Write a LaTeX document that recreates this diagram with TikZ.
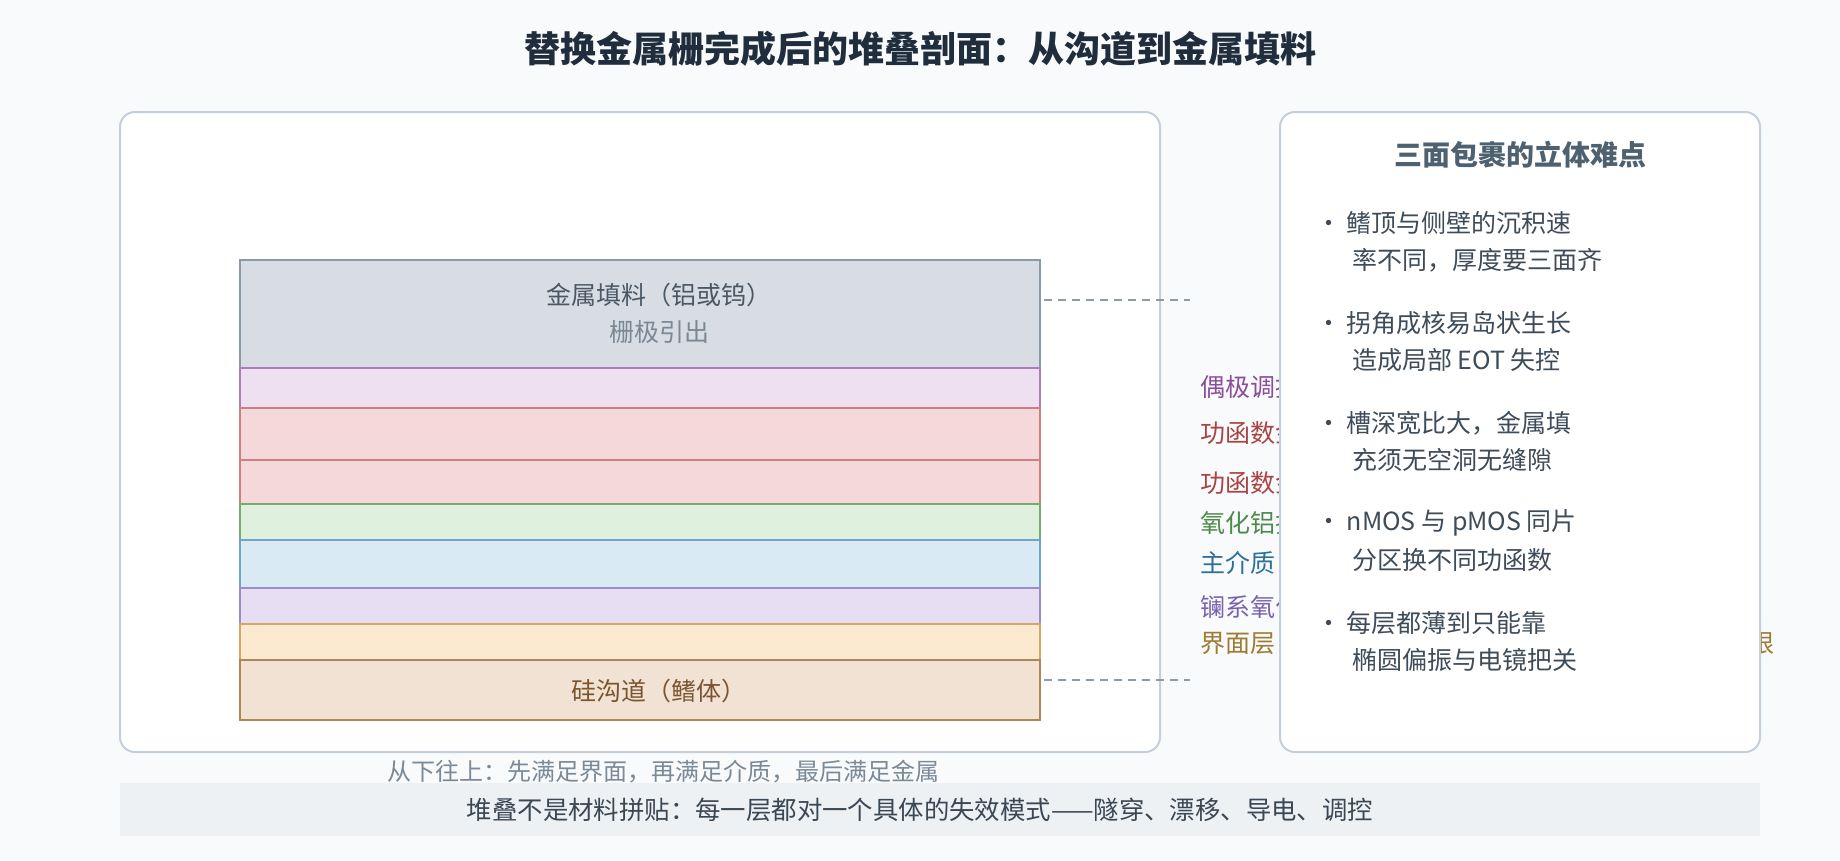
\documentclass[tikz,border=0pt]{standalone}
\usepackage{fontspec}
\setmainfont{Noto Sans CJK SC}
\definecolor{bg}{HTML}{F8FAFC}
\definecolor{panelc}{HTML}{C5CFD9}
\definecolor{titlec}{HTML}{1F2D3D}
\definecolor{bodyc}{HTML}{3E4C59}
\definecolor{headc}{HTML}{4D6170}
\definecolor{leaderc}{HTML}{8D9BA6}
\definecolor{capc}{HTML}{7B8A97}
\definecolor{bandc}{HTML}{EEF1F4}
\definecolor{bandt}{HTML}{3A4754}
\definecolor{mfill}{HTML}{D8DDE3}\definecolor{mline}{HTML}{8A9AA8}
\definecolor{dfill}{HTML}{EEE0F0}\definecolor{dline}{HTML}{A87FB8}
\definecolor{rfill}{HTML}{F5D9DA}\definecolor{rline}{HTML}{CC8080}
\definecolor{gfill}{HTML}{E0F0DE}\definecolor{gline}{HTML}{7AAA72}
\definecolor{bfill}{HTML}{D9EAF5}\definecolor{bline}{HTML}{6FA5C8}
\definecolor{lfill}{HTML}{E7DEF3}\definecolor{lline}{HTML}{9C8CC8}
\definecolor{yfill}{HTML}{FBEAD0}\definecolor{yline}{HTML}{D1A865}
\definecolor{sfill}{HTML}{F2E2D4}\definecolor{sline}{HTML}{AD8759}
\definecolor{dtext}{HTML}{8A4F9A}
\definecolor{rtext}{HTML}{A94442}
\definecolor{gtext}{HTML}{4F8A4A}
\definecolor{btext}{HTML}{2F6F9A}
\definecolor{ltext}{HTML}{7A62B0}
\definecolor{ytext}{HTML}{A07A30}
\definecolor{mtext}{HTML}{4A5866}
\definecolor{mtext2}{HTML}{7A8895}
\definecolor{stext}{HTML}{7A5530}
\begin{document}
\begin{tikzpicture}[x=1pt,y=-1pt,
  layer/.style={draw, line width=2pt, minimum width=800pt, inner sep=0pt, outer sep=0pt},
  panel/.style={draw=panelc, line width=2pt, rounded corners=15pt, fill=white, inner sep=0pt},
  lbl/.style={anchor=west, inner sep=0pt, font=\fontsize{25}{30}\selectfont},
  body/.style={anchor=west, inner sep=0pt, text=bodyc, font=\fontsize{25}{30}\selectfont},
  leader/.style={draw=leaderc, line width=2pt, dash pattern=on 8pt off 6pt},
  ctext/.style={inner sep=0pt, font=\fontsize{24}{29}\selectfont},
  stxt/.style={inner sep=0pt, font=\fontsize{25}{30}\selectfont}]
\useasboundingbox (0,0) rectangle (1840,860);
\fill[bg] (0,0) rectangle (1840,860);
% title
\node[inner sep=0pt, text=titlec, font=\fontsize{36}{42}\selectfont\bfseries] (title) at (920,49) {替换金属栅完成后的堆叠剖面：从沟道到金属填料};
% left panel
\node[panel, minimum width=1040pt, minimum height=640pt] (leftpanel) at (640,432) {};
% stack
\node[layer, draw=mline, fill=mfill, minimum height=108pt] (metal) at (640,314) {};
\node[layer, draw=dline, fill=dfill, minimum height=40pt] (dipole) at (640,388) {};
\node[layer, draw=rline, fill=rfill, minimum height=52pt] (wfa) at (640,434) {};
\node[layer, draw=rline, fill=rfill, minimum height=44pt] (wfb) at (640,482) {};
\node[layer, draw=gline, fill=gfill, minimum height=36pt] (alo) at (640,522) {};
\node[layer, draw=bline, fill=bfill, minimum height=48pt] (hk) at (640,564) {};
\node[layer, draw=lline, fill=lfill, minimum height=36pt] (lao) at (640,606) {};
\node[layer, draw=yline, fill=yfill, minimum height=36pt] (il) at (640,642) {};
\node[layer, draw=sline, fill=sfill, minimum height=60pt] (si) at (640,690) {};
\node[stxt, text=mtext] (mname) at (659,295) {金属填料（铝或钨）};
\node[stxt, text=mtext2] (mrole) at (659,332) {栅极引出};
\node[stxt, text=stext] (sname) at (659,691) {硅沟道（鳍体）};
% leaders
\coordinate (mend) at (1190,300);
\coordinate (send) at (1190,680);
\draw[leader] ([shift={(4,-14)}]metal.east) -- (mend);
\draw[leader] ([shift={(4,-10)}]si.east) -- (send);
% layer labels (their overflow is hidden by the right panel)
\node[lbl, text=dtext] (ldip) at (1200,387) {偶极调控};
\node[lbl, text=rtext] (lwfa) at (1200,433) {功函数金};
\node[lbl, text=rtext] (lwfb) at (1200,483) {功函数金};
\node[lbl, text=gtext] (lalo) at (1200,523) {氧化铝插};
\node[lbl, text=btext] (lhk) at (1200,563) {主介质（};
\node[lbl, text=ltext] (llao) at (1200,607) {镧系氧化};
\node[lbl, text=ytext] (lil) at (1200,643) {界面层（};
\node[lbl, anchor=east, text=ytext] (lilend) at (1775,643) {限};
% right panel
\node[panel, minimum width=480pt, minimum height=640pt] (rightpanel) at (1520,432) {};
\node[inner sep=0pt, text=headc, font=\fontsize{28}{34}\selectfont\bfseries] (head) at (1520,155) {三面包裹的立体难点};
\node[body] (b1a) at (1316,223) {· 鳍顶与侧壁的沉积速};
\node[body] (b1b) at (1352,260) {率不同，厚度要三面齐};
\node[body] (b2a) at (1316,323) {· 拐角成核易岛状生长};
\node[body] (b2b) at (1352,360) {造成局部 EOT 失控};
\node[body] (b3a) at (1316,423) {· 槽深宽比大，金属填};
\node[body] (b3b) at (1352,460) {充须无空洞无缝隙};
\node[body] (b4a) at (1316,523) {· nMOS 与 pMOS 同片};
\node[body] (b4b) at (1352,560) {分区换不同功函数};
\node[body] (b5a) at (1316,623) {· 每层都薄到只能靠};
\node[body] (b5b) at (1352,660) {椭圆偏振与电镜把关};
% caption and band
\node[ctext, text=capc] (cap) at (663,772) {从下往上：先满足界面，再满足介质，最后满足金属};
\node[fill=bandc, inner sep=0pt, minimum width=1640pt, minimum height=53pt] (band) at (940,809.5) {};
\node[ctext, text=bandt, font=\fontsize{25.4}{30}\selectfont] (bandtext) at (920,810) {堆叠不是材料拼贴：每一层都对一个具体的失效模式——隧穿、漂移、导电、调控};
\end{tikzpicture}
\end{document}
